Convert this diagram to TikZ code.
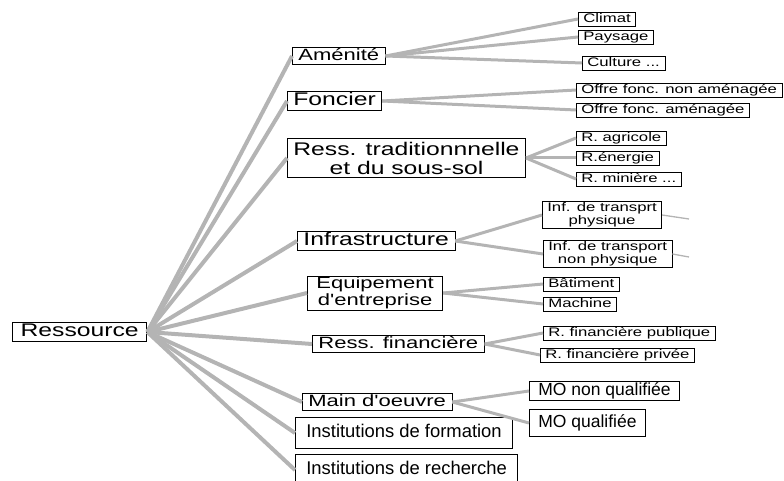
\documentclass[tikz,border=0pt]{standalone}
\usepackage{fontspec}
\usepackage{tikz}
\usetikzlibrary{positioning}
\setmainfont{Liberation Sans}
\newfontfamily\widesans[FakeStretch=1.35]{Liberation Sans}
\definecolor{branchgray}{RGB}{180,180,180}
\tikzstyle{topic} = [draw, fill=white, rectangle, anchor=west, line width=0.8pt, inner xsep=6pt, inner ysep=1pt]
\tikzstyle{big} = [topic, text height=13.2pt, text depth=3.8pt, font=\widesans\fontsize{18.3}{19}\selectfont]
\tikzstyle{mid} = [topic, text height=12pt, text depth=3.4pt, font=\widesans\fontsize{16.3}{17}\selectfont]
\tikzstyle{twoline} = [align=center, text height=, text depth=]
\tikzstyle{leaf} = [draw, fill=white, rectangle, anchor=west, line width=0.6pt, inner xsep=5pt, inner ysep=1pt, text height=9.2pt, text depth=2.6pt, font=\widesans\fontsize{12.4}{13}\selectfont]
\tikzstyle{inst} = [draw, fill=white, rectangle, anchor=west, line width=0.7pt, inner xsep=11pt, inner ysep=7pt, text height=13.4pt, text depth=4pt, font=\fontsize{18.4}{20}\selectfont]
\tikzstyle{mo} = [inst, inner xsep=9pt, inner ysep=1.2pt, text height=12.8pt, text depth=3.8pt, font=\fontsize{17.5}{19}\selectfont]
\tikzstyle{branch} = [draw=branchgray, line width=4pt]
\tikzstyle{twig} = [draw=branchgray, line width=3pt]
\tikzstyle{stub} = [draw=branchgray, line width=1.3pt]

\begin{document}
\begin{tikzpicture}[auto, x=1pt, y=-1pt, >=latex]
    \useasboundingbox (0,0) rectangle (784,481);
    \clip (0,0) rectangle (784,481);
    \node [big, line width=1.3pt, inner xsep=8pt] (root) at (12,332) {Ressource};
    \node [mid] (amen) at (292,56) {Aménité};
    \node [big] (fonc) at (287,101) {Foncier};
    \node [big, twoline, inner ysep=3pt] (trad) at (287,158) {Ress. traditionnnelle\\et du sous-sol};
    \node [big] (infra) at (297,241) {Infrastructure};
    \node [mid, twoline, inner xsep=9pt, font=\widesans\fontsize{16.3}{17}\selectfont] (equip) at (307,293) {Equipement\\d'entreprise};
    \node [mid] (fin) at (312,344) {Ress. financière};
    \node [mid] (main) at (302,402) {Main d'oeuvre};
    \node [inst] (instf) at (295,433) {Institutions de formation};
    \node [inst] (instr) at (295,470) {Institutions de recherche};

    \node [leaf] (clim) at (578,19) {Climat};
    \node [leaf] (pays) at (578,37) {Paysage};
    \node [leaf] (cult) at (582,63) {Culture ...};
    \node [leaf] (offn) at (576,90) {Offre fonc. non aménagée};
    \node [leaf] (offa) at (576,110) {Offre fonc. aménagée};
    \node [leaf] (ragr) at (576,138) {R. agricole};
    \node [leaf] (rene) at (576,158) {R.énergie};
    \node [leaf] (rmin) at (576,179) {R. minière ...};
    \node [leaf, twoline] (infp) at (542,215) {Inf. de transprt\\physique};
    \node [leaf, twoline] (infn) at (543,254) {Inf. de transport\\non physique};
    \node [leaf] (bat) at (543,284) {Bâtiment};
    \node [leaf] (mach) at (543,304) {Machine};
    \node [leaf] (rfpu) at (543,333) {R. financière publique};
    \node [leaf] (rfpr) at (540,355) {R. financière privée};
    \node [mo] (mon) at (529,391) {MO non qualifiée};
    \node [mo, minimum height=27pt] (moq) at (529,423) {MO qualifiée};
    \coordinate (stubp) at (689,219);
    \coordinate (stubn) at (689,257);

    \foreach \t in {amen, fonc, trad, infra, equip, fin, main, instf, instr}
        \draw [branch] (root.east) -- (\t.west);
    \foreach \s/\t in {amen/clim, amen/pays, amen/cult, fonc/offn, fonc/offa, trad/ragr, trad/rene, trad/rmin, infra/infp, infra/infn, equip/bat, equip/mach, fin/rfpu, fin/rfpr, main/mon, main/moq}
        \draw [twig] (\s.east) -- (\t.west);
    \draw [stub] (infp.east) -- (stubp);
    \draw [stub] (infn.east) -- (stubn);
\end{tikzpicture}
\end{document}
